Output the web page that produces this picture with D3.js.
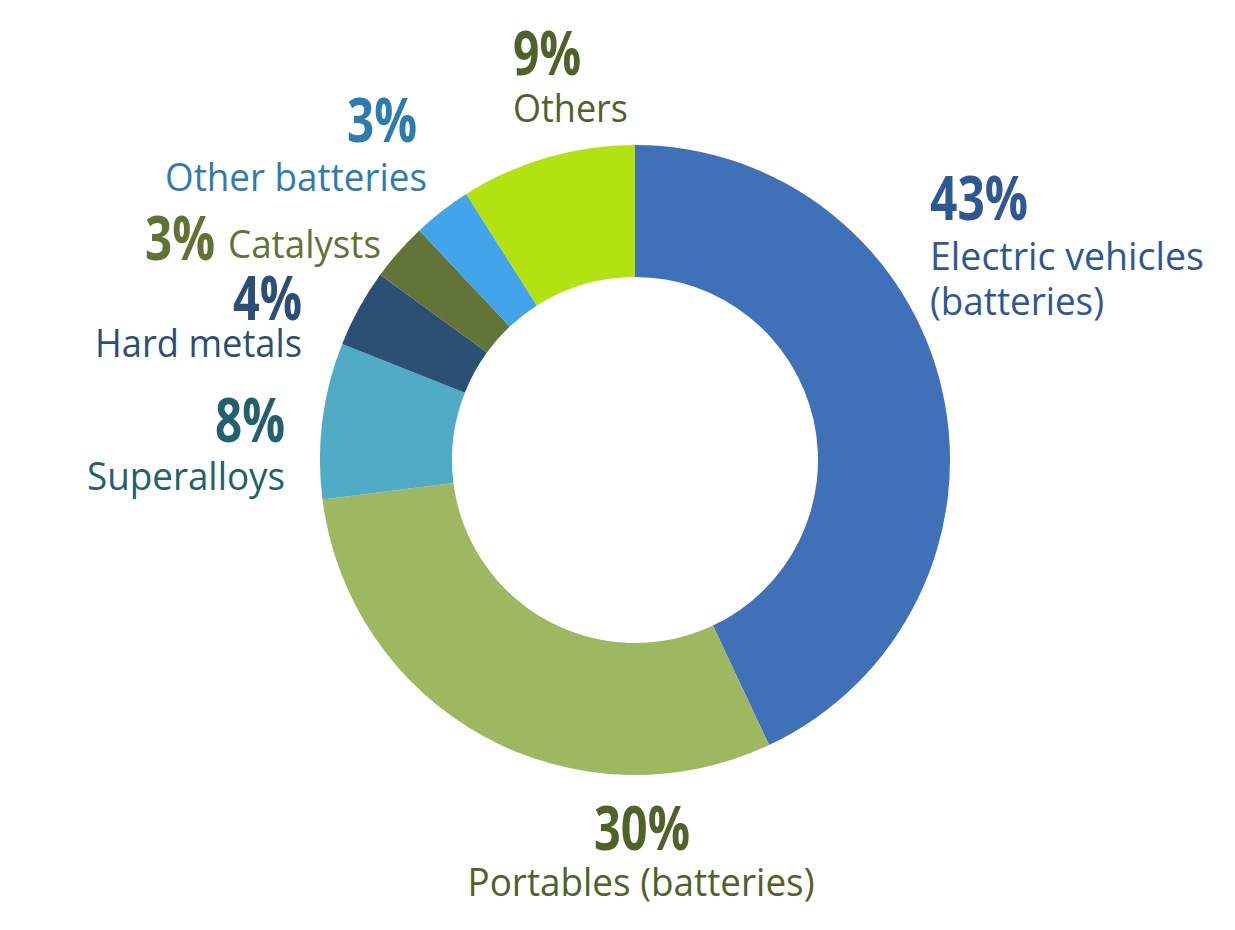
<!DOCTYPE html>
<html>
<head>
<meta charset="utf-8">
<script src="https://cdn.jsdelivr.net/npm/d3@7"></script>
<style>
	html, body { margin: 0; padding: 0; background: #fff; }
	svg text { font-family: "Open Sans", "Noto Sans", sans-serif; }
</style>
</head>
<body>
<div id="chart"></div>
<script>
// data, clockwise from 12 o'clock
const categories = ["Electric vehicles (batteries)", "Portables (batteries)", "Superalloys", "Hard metals", "Catalysts", "Other batteries", "Others"];
const values = [43, 30, 8, 4, 3, 3, 9];

const sliceColors = ["#4070b8", "#9db860", "#50abc6", "#2c4f74", "#627438", "#42a4ea", "#b2e311"];
const textColors = ["#2e5892", "#4f6229", "#22606e", "#2d4e74", "#617235", "#2e7bb0", "#4f6229"];

const width = 1235,
	height = 930;
const cx = 635, cy = 460,
	outerR = 315, innerR = 183;

const svg = d3.select("#chart")
	.append("svg")
	.attr("width", width)
	.attr("height", height);

const pie = d3.pie().sort(null).value((d) => d);
const arc = d3.arc().innerRadius(innerR).outerRadius(outerR);

const g = svg.append("g")
	.attr("transform", "translate(" + cx + "," + cy + ")");

g.selectAll("path")
	.data(pie(values))
	.enter().append("path")
	.attr("d", arc)
	.attr("fill", (d, i) => sliceColors[i]);

// label layout: pct line + name lines (x, baseline y, anchor, text width)
const layout = [
	{pct: [930, 220, "start", 98], lines: [["Electric vehicles", 930, 270, "start", 274], ["(batteries)", 930, 315, "start", 174]]},
	{pct: [642, 850, "middle", 96], lines: [["Portables (batteries)", 641, 896, "middle", 347]]},
	{pct: [285, 442, "end", 70], lines: [["Superalloys", 285, 490, "end", 198]]},
	{pct: [302, 320, "end", 69], lines: [["Hard metals", 302, 357, "end", 207]]},
	{pct: [145, 260, "start", 70], lines: [["Catalysts", 228, 258, "start", 153]]},
	{pct: [417, 142, "end", 70], lines: [["Other batteries", 427, 191, "end", 262]]},
	{pct: [513, 75, "start", 68], lines: [["Others", 513, 122, "start", 115]]}
];

layout.forEach((l, i) => {
	svg.append("text")
		.attr("x", l.pct[0])
		.attr("y", l.pct[1])
		.attr("text-anchor", l.pct[2])
		.attr("textLength", l.pct[3])
		.attr("lengthAdjust", "spacingAndGlyphs")
		.attr("fill", textColors[i])
		.style("font-size", "60px")
		.style("font-weight", "bold")
		.text(values[i] + "%");

	l.lines.forEach((t) => {
		svg.append("text")
			.attr("x", t[1])
			.attr("y", t[2])
			.attr("text-anchor", t[3])
			.attr("textLength", t[4])
			.attr("lengthAdjust", "spacingAndGlyphs")
			.attr("fill", textColors[i])
			.style("font-size", "39px")
			.text(t[0]);
	});
});
</script>
</body>
</html>
